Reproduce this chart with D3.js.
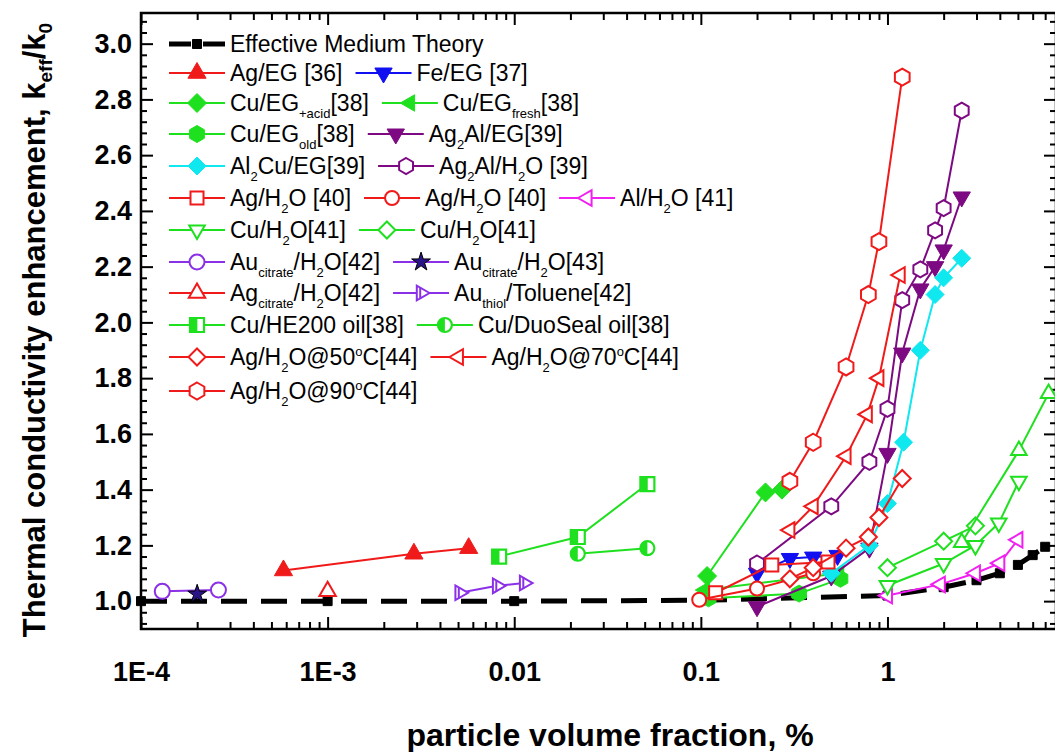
<!DOCTYPE html>
<html>
<head>
<meta charset="utf-8">
<script src="https://cdn.jsdelivr.net/npm/d3@7"></script>
<style>
  body { margin: 0; background: #fff; }
  svg { display: block; }
  text { font-family: "Liberation Sans", Arial, sans-serif; fill: #000; }
</style>
</head>
<body>
<svg id="chart" width="1055" height="752"></svg>
<script>
// ---- data: [volume fraction %, k_eff/k_0] ----
const emt        = [[1e-4,1.0],[1e-3,1.0],[0.01,1.0],[0.1,1.003],[1,1.02],[2,1.05],[3,1.075],[4,1.10],[5,1.13],[6,1.165],[7,1.195]];
const agEG       = [[5.8e-4,1.11],[2.9e-3,1.17],[5.7e-3,1.19]];
const feEG       = [[0.2,1.10],[0.3,1.153],[0.4,1.158],[0.54,1.164]];
const cuEGacid   = [[0.108,1.09],[0.222,1.39],[0.272,1.40]];
const cuEGfresh  = [[0.105,1.04],[0.55,1.10]];
const cuEGold    = [[0.11,1.01],[0.336,1.027],[0.56,1.08]];
const ag2AlEG    = [[0.2,0.98],[0.5,1.09],[0.8,1.19],[1.0,1.53],[1.2,1.89],[1.5,2.12],[1.8,2.20],[2.0,2.26],[2.5,2.45]];
const al2CuEG    = [[0.5,1.10],[0.8,1.20],[1.0,1.35],[1.22,1.57],[1.5,1.90],[1.8,2.10],[2.0,2.16],[2.5,2.23]];
const ag2AlH2O   = [[0.2,1.135],[0.5,1.34],[0.8,1.50],[1.0,1.69],[1.2,2.08],[1.5,2.19],[1.8,2.33],[2.0,2.41],[2.5,2.76]];
const agH2Osq    = [[0.12,1.03],[0.24,1.13],[0.48,1.14]];
const agH2Oci    = [[0.098,1.005],[0.2,1.045],[0.4,1.10]];
const alH2O      = [[1.0,1.02],[1.92,1.06],[2.96,1.10],[4.0,1.136],[5.0,1.22]];
const cuH2Odown  = [[1.0,1.056],[2.0,1.135],[2.96,1.20],[3.95,1.28],[5.06,1.43]];
const cuH2Odiam  = [[1.0,1.12],[2.0,1.215],[2.96,1.27]];
const cuH2Oup    = [[2.5,1.21],[5.06,1.54],[7.3,1.745]];
const auCit42    = [[1.3e-4,1.035],[2.6e-4,1.04]];
const auCit43    = [[2.0e-4,1.025]];
const agCit42    = [[1.0e-3,1.035]];
const auThiol    = [[5.1e-3,1.03],[8.1e-3,1.055],[1.13e-2,1.065]];
const cuHE200    = [[8.3e-3,1.16],[0.0219,1.23],[0.0517,1.42]];
const cuDuoSeal  = [[0.0219,1.17],[0.0517,1.19]];
const agH2O50    = [[0.3,1.08],[0.4,1.12],[0.6,1.19],[0.79,1.23],[0.9,1.30],[1.2,1.44]];
const agH2O70    = [[0.3,1.255],[0.4,1.34],[0.6,1.52],[0.78,1.67],[0.9,1.80],[1.17,2.17]];
const agH2O90    = [[0.3,1.43],[0.4,1.57],[0.6,1.84],[0.79,2.10],[0.9,2.29],[1.2,2.88]];

const xTickValues = [1e-4, 1e-3, 0.01, 0.1, 1];
const xTickLabels = ["1E-4", "1E-3", "0.01", "0.1", "1"];
const yTickValues = [1.0, 1.2, 1.4, 1.6, 1.8, 2.0, 2.2, 2.4, 2.6, 2.8, 3.0];
const yTickLabels = ["1.0", "1.2", "1.4", "1.6", "1.8", "2.0", "2.2", "2.4", "2.6", "2.8", "3.0"];

const RED = "#f01a1a", BLUE = "#1010f0", GREEN = "#1fe01f", PURPLE = "#7d0a82",
      CYAN = "#10e8f0", MAGENTA = "#f020f0", VIOLET = "#8a30e6";

// series table (style lives here, values come from the arrays above)
const series = [
  { key: "emt", data: emt, color: "#000", shape: "square", fill: "solid", r: 4.5, label: "Effective Medium Theory", dash: "26,14", width: 5 },
  { key: "agEG", data: agEG, color: RED, shape: "up", fill: "solid", r: 10.5, label: "Ag/EG [36]" },
  { key: "feEG", data: feEG, color: BLUE, shape: "down", fill: "solid", r: 10, label: "Fe/EG [37]" },
  { key: "cuEGacid", data: cuEGacid, color: GREEN, shape: "diamond", fill: "solid", r: 9.5, label: "Cu/EG_{+acid}[38]" },
  { key: "cuEGfresh", data: cuEGfresh, color: GREEN, shape: "left", fill: "solid", r: 9.5, label: "Cu/EG_{fresh}[38]" },
  { key: "cuEGold", data: cuEGold, color: GREEN, shape: "hexagon", fill: "solid", r: 8.5, label: "Cu/EG_{old}[38]" },
  { key: "ag2AlEG", data: ag2AlEG, color: PURPLE, shape: "down", fill: "solid", r: 10, label: "Ag_{2}Al/EG[39]" },
  { key: "al2CuEG", data: al2CuEG, color: CYAN, shape: "diamond", fill: "solid", r: 9, label: "Al_{2}Cu/EG[39]" },
  { key: "ag2AlH2O", data: ag2AlH2O, color: PURPLE, shape: "hexagon", fill: "open", r: 8, label: "Ag_{2}Al/H_{2}O [39]" },
  { key: "agH2Osq", data: agH2Osq, color: RED, shape: "square", fill: "open", r: 6.5, label: "Ag/H_{2}O [40]" },
  { key: "agH2Oci", data: agH2Oci, color: RED, shape: "circle", fill: "open", r: 7, label: "Ag/H_{2}O [40]" },
  { key: "alH2O", data: alH2O, color: MAGENTA, shape: "left", fill: "open", r: 9, label: "Al/H_{2}O [41]" },
  { key: "cuH2Odown", data: cuH2Odown, color: GREEN, shape: "down", fill: "open", r: 9, label: "Cu/H_{2}O[41]" },
  { key: "cuH2Odiam", data: cuH2Odiam, color: GREEN, shape: "diamond", fill: "open", r: 8.5, label: "Cu/H_{2}O[41]" },
  { key: "cuH2Oup", data: cuH2Oup, color: GREEN, shape: "up", fill: "open", r: 9, label: null },
  { key: "auCit42", data: auCit42, color: VIOLET, shape: "circle", fill: "open", r: 7.5, label: "Au_{citrate}/H_{2}O[42]" },
  { key: "auCit43", data: auCit43, color: VIOLET, shape: "star", fill: "star", r: 6.5, label: "Au_{citrate}/H_{2}O[43]" },
  { key: "agCit42", data: agCit42, color: RED, shape: "up", fill: "open", r: 9.5, label: "Ag_{citrate}/H_{2}O[42]" },
  { key: "auThiol", data: auThiol, color: VIOLET, shape: "rightBar", fill: "open", r: 8.5, label: "Au_{thiol}/Toluene[42]" },
  { key: "cuHE200", data: cuHE200, color: GREEN, shape: "squareHalf", fill: "half", r: 7, label: "Cu/HE200 oil[38]" },
  { key: "cuDuoSeal", data: cuDuoSeal, color: GREEN, shape: "circleHalf", fill: "half", r: 7, label: "Cu/DuoSeal oil[38]" },
  { key: "agH2O50", data: agH2O50, color: RED, shape: "diamond", fill: "open", r: 8.5, label: "Ag/H_{2}O@50^{o}C[44]" },
  { key: "agH2O70", data: agH2O70, color: RED, shape: "left", fill: "open", r: 9, label: "Ag/H_{2}O@70^{o}C[44]" },
  { key: "agH2O90", data: agH2O90, color: RED, shape: "hexagon", fill: "open", r: 8.5, label: "Ag/H_{2}O@90^{o}C[44]" }
];

const legendRows = [
  ["emt"],
  ["agEG", "feEG"],
  ["cuEGacid", "cuEGfresh"],
  ["cuEGold", "ag2AlEG"],
  ["al2CuEG", "ag2AlH2O"],
  ["agH2Osq", "agH2Oci", "alH2O"],
  ["cuH2Odown", "cuH2Odiam"],
  ["auCit42", "auCit43"],
  ["agCit42", "auThiol"],
  ["cuHE200", "cuDuoSeal"],
  ["agH2O50", "agH2O70"],
  ["agH2O90"]
];
const legendRowY = [44, 73, 103, 134, 166, 198, 230, 262, 293, 325, 357, 391];

// ---- layout ----
const X0 = 141, X1 = 1056, Y0 = 629, Y1 = 13;
const svg = d3.select("#chart");
const x = d3.scaleLog().domain([1e-4, 8]).range([X0, X1]);
const y = d3.scaleLinear().domain([0.9, 3.11]).range([Y0, Y1]);

const xMinor = [];
for (let e = -4; e <= 0; e++) for (let k = 2; k <= 9; k++) {
  const v = k * Math.pow(10, e);
  if (v <= 8) xMinor.push(v);
}
const yMinor = d3.range(0.92, 3.1, 0.04).filter(v => Math.abs((v - 1) / 0.2 - Math.round((v - 1) / 0.2)) > 0.01);

// axes
function styleAxis(g, fontSize) {
  g.select(".domain").remove();
  g.selectAll(".tick line").attr("stroke", "#000").attr("stroke-width", 2);
  g.selectAll(".tick text").attr("font-size", fontSize).attr("font-weight", "bold")
    .attr("font-family", '"Liberation Sans", Arial, sans-serif').attr("fill", "#000");
}
const axes = svg.append("g");
axes.append("g").attr("transform", `translate(0,${Y0})`)
  .call(d3.axisBottom(x).tickValues(xTickValues).tickFormat((d, i) => xTickLabels[i]).tickSizeInner(-12).tickSizeOuter(0).tickPadding(33))
  .call(g => styleAxis(g, 27));
axes.append("g").attr("transform", `translate(0,${Y0})`)
  .call(d3.axisBottom(x).tickValues(xMinor).tickFormat("").tickSize(-7)).call(g => styleAxis(g, 0));
axes.append("g").attr("transform", `translate(0,${Y1})`)
  .call(d3.axisTop(x).tickValues(xTickValues).tickFormat("").tickSize(-12)).call(g => styleAxis(g, 0));
axes.append("g").attr("transform", `translate(0,${Y1})`)
  .call(d3.axisTop(x).tickValues(xMinor).tickFormat("").tickSize(-7)).call(g => styleAxis(g, 0));
axes.append("g").attr("transform", `translate(${X0},0)`)
  .call(d3.axisLeft(y).tickValues(yTickValues).tickFormat((d, i) => yTickLabels[i]).tickSizeInner(-12).tickSizeOuter(0).tickPadding(9))
  .call(g => styleAxis(g, 27));
axes.append("g").attr("transform", `translate(${X0},0)`)
  .call(d3.axisLeft(y).tickValues(yMinor).tickFormat("").tickSize(-6)).call(g => styleAxis(g, 0));
axes.append("g").attr("transform", `translate(${X1},0)`)
  .call(d3.axisRight(y).tickValues(yTickValues).tickFormat("").tickSize(-12)).call(g => styleAxis(g, 0));
axes.append("g").attr("transform", `translate(${X1},0)`)
  .call(d3.axisRight(y).tickValues(yMinor).tickFormat("").tickSize(-6)).call(g => styleAxis(g, 0));

svg.append("rect").attr("x", X0).attr("y", Y1).attr("width", X1 - X0).attr("height", Y0 - Y1)
  .attr("fill", "none").attr("stroke", "#000").attr("stroke-width", 2.5);

// axis titles
svg.append("text").attr("x", 610).attr("y", 746).attr("text-anchor", "middle")
  .attr("font-size", 32).attr("font-weight", "bold").text("particle volume fraction, %");

const yTitle = svg.append("text").attr("transform", "translate(45,330) rotate(-90)")
  .attr("text-anchor", "middle").attr("font-size", 31).attr("font-weight", "bold");
yTitle.append("tspan").text("Thermal conductivity enhancement, k");
yTitle.append("tspan").attr("font-size", 19).attr("dy", 7).text("eff");
yTitle.append("tspan").attr("dy", -7).text("/k");
yTitle.append("tspan").attr("font-size", 19).attr("dy", 7).text("0");

// ---- markers ----
const poly = pts => "M" + pts.map(p => p[0].toFixed(2) + "," + p[1].toFixed(2)).join("L") + "Z";
const C30 = Math.cos(Math.PI / 6);
function shapePath(shape, r) {
  switch (shape) {
    case "up": return poly([[0, -r], [r * C30, r / 2], [-r * C30, r / 2]]);
    case "down": return poly([[0, r], [r * C30, -r / 2], [-r * C30, -r / 2]]);
    case "left": return poly([[-r, 0], [r / 2, -r * C30], [r / 2, r * C30]]);
    case "right":
    case "rightBar": return poly([[r, 0], [-r / 2, -r * C30], [-r / 2, r * C30]]);
    case "diamond": return poly([[0, -r], [r, 0], [0, r], [-r, 0]]);
    case "square":
    case "squareHalf": return poly([[-r, -r], [r, -r], [r, r], [-r, r]]);
    case "hexagon": return poly(d3.range(6).map(k => [r * Math.cos(-Math.PI / 2 + k * Math.PI / 3), r * Math.sin(-Math.PI / 2 + k * Math.PI / 3)]));
    case "circle":
    case "circleHalf": return d3.symbol(d3.symbolCircle, Math.PI * r * r)();
    case "star": return d3.symbol(d3.symbolStar, r * r * 2.6)();
  }
}
function drawMarker(g, s, px, py) {
  const m = g.append("g").attr("transform", `translate(${px},${py})`);
  const d = shapePath(s.shape, s.r);
  if (s.fill === "solid") {
    m.append("path").attr("d", d).attr("fill", s.color).attr("stroke", s.color).attr("stroke-width", 1);
  } else if (s.fill === "star") {
    m.append("path").attr("d", d).attr("fill", "#2a1486").attr("stroke", "#000").attr("stroke-width", 1);
  } else if (s.fill === "half") {
    m.append("path").attr("d", d).attr("fill", "#fff").attr("stroke", s.color).attr("stroke-width", 2.2);
    if (s.shape === "squareHalf") {
      m.append("rect").attr("x", -s.r).attr("y", -s.r).attr("width", s.r * 1.05).attr("height", 2 * s.r).attr("fill", s.color);
    } else {
      m.append("path").attr("d", `M0,${-s.r}A${s.r},${s.r} 0 0 0 0,${s.r}Z`).attr("fill", s.color);
    }
  } else {
    m.append("path").attr("d", d).attr("fill", "#fff").attr("stroke", s.color).attr("stroke-width", 2);
    if (s.shape === "rightBar") {
      m.append("line").attr("x1", -s.r * 0.1).attr("x2", -s.r * 0.1).attr("y1", -s.r * 0.68).attr("y2", s.r * 0.68)
        .attr("stroke", s.color).attr("stroke-width", 2);
    }
  }
}

// ---- plot series ----
const line = d3.line().x(d => x(d[0])).y(d => y(d[1]));
const plot = svg.append("g");
series.forEach(s => {
  const g = plot.append("g");
  if (s.data.length > 1) {
    g.append("path").datum(s.data).attr("d", line).attr("fill", "none")
      .attr("stroke", s.color).attr("stroke-width", s.width || 2)
      .attr("stroke-dasharray", s.dash || null);
  }
  s.data.forEach(d => drawMarker(g, s, x(d[0]), y(d[1])));
});

// ---- legend ----
function richText(t, str, base) {
  const parts = str.match(/(_\{[^}]*\}|\^\{[^}]*\}|[^_^]+)/g);
  let shift = 0;
  parts.forEach(p => {
    let target = 0, txt = p, size = base;
    if (p[0] === "_") { target = 7; txt = p.slice(2, -1); size = 13; }
    else if (p[0] === "^") { target = -9; txt = p.slice(2, -1); size = 13; }
    t.append("tspan").attr("dy", target - shift).attr("font-size", size).text(txt);
    shift = target;
  });
}
const byKey = Object.fromEntries(series.map(s => [s.key, s]));
const legend = svg.append("g");
legendRows.forEach((row, i) => {
  const cy = legendRowY[i];
  let lx = 169;
  row.forEach(key => {
    const s = byKey[key];
    const g = legend.append("g");
    if (key === "emt") {
      g.append("line").attr("x1", lx).attr("x2", lx + 56).attr("y1", cy).attr("y2", cy)
        .attr("stroke", "#000").attr("stroke-width", 5).attr("stroke-dasharray", "22,12");
    } else {
      g.append("line").attr("x1", lx).attr("x2", lx + 56).attr("y1", cy).attr("y2", cy)
        .attr("stroke", s.color).attr("stroke-width", 2);
    }
    drawMarker(g, s, lx + 28, cy);
    const t = g.append("text").attr("x", lx + 61).attr("y", cy + 8).attr("font-size", 23);
    richText(t, s.label, 23);
    const w = t.node().getComputedTextLength();
    lx = lx + 61 + w + 13;
  });
});
</script>
</body>
</html>
